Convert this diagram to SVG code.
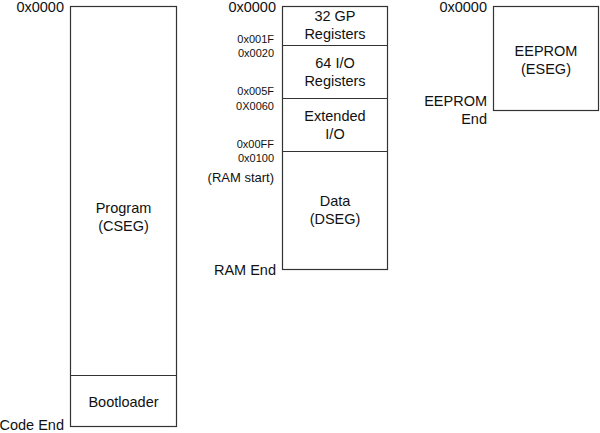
<svg xmlns="http://www.w3.org/2000/svg" width="600" height="433" viewBox="0 0 600 433">
<style>
.b{fill:#fff;stroke:#333;stroke-width:1.2}
.l{stroke:#333;stroke-width:1.2}
text{font-family:"Liberation Sans",Arial,sans-serif;fill:#111}
.m{font-size:14.5px;text-anchor:middle}
.r{font-size:14.5px;text-anchor:end}
.s{font-size:11px;text-anchor:end}
.t{font-size:13px;text-anchor:end}
</style>
<rect width="600" height="433" fill="#fff"/>
<g id="program">
<rect class="b" x="70.5" y="6.5" width="106" height="420"/>
<line class="l" x1="70.5" y1="375.5" x2="176.5" y2="375.5"/>
<text class="m" x="123.5" y="213">Program</text>
<text class="m" x="123.5" y="231">(CSEG)</text>
<text class="m" x="123.5" y="407">Bootloader</text>
<text class="r" x="64" y="12">0x0000</text>
<text class="r" x="64" y="430">Code End</text>
</g>
<g id="data">
<rect class="b" x="282.5" y="6.5" width="105" height="263"/>
<line class="l" x1="282.5" y1="45.5" x2="387.5" y2="45.5"/>
<line class="l" x1="282.5" y1="98.5" x2="387.5" y2="98.5"/>
<line class="l" x1="282.5" y1="151.5" x2="387.5" y2="151.5"/>
<text class="m" x="335" y="21">32 GP</text>
<text class="m" x="335" y="39">Registers</text>
<text class="m" x="335" y="68">64 I/O</text>
<text class="m" x="335" y="86">Registers</text>
<text class="m" x="335" y="121">Extended</text>
<text class="m" x="335" y="139">I/O</text>
<text class="m" x="335" y="206">Data</text>
<text class="m" x="335" y="224">(DSEG)</text>
<text class="r" x="276" y="12">0x0000</text>
<text class="s" x="274" y="43">0x001F</text>
<text class="s" x="274" y="57">0x0020</text>
<text class="s" x="274" y="95">0x005F</text>
<text class="s" x="274" y="110">0X0060</text>
<text class="s" x="274" y="148">0x00FF</text>
<text class="s" x="274" y="162">0x0100</text>
<text class="t" x="274" y="182">(RAM start)</text>
<text class="r" x="276" y="275">RAM End</text>
</g>
<g id="eeprom">
<rect class="b" x="493.5" y="6.5" width="105" height="104"/>
<text class="m" x="546" y="56">EEPROM</text>
<text class="m" x="546" y="74">(ESEG)</text>
<text class="r" x="487" y="12">0x0000</text>
<text class="r" x="487" y="106">EEPROM</text>
<text class="r" x="487" y="124">End</text>
</g>
<g id="connectors"/>
</svg>
